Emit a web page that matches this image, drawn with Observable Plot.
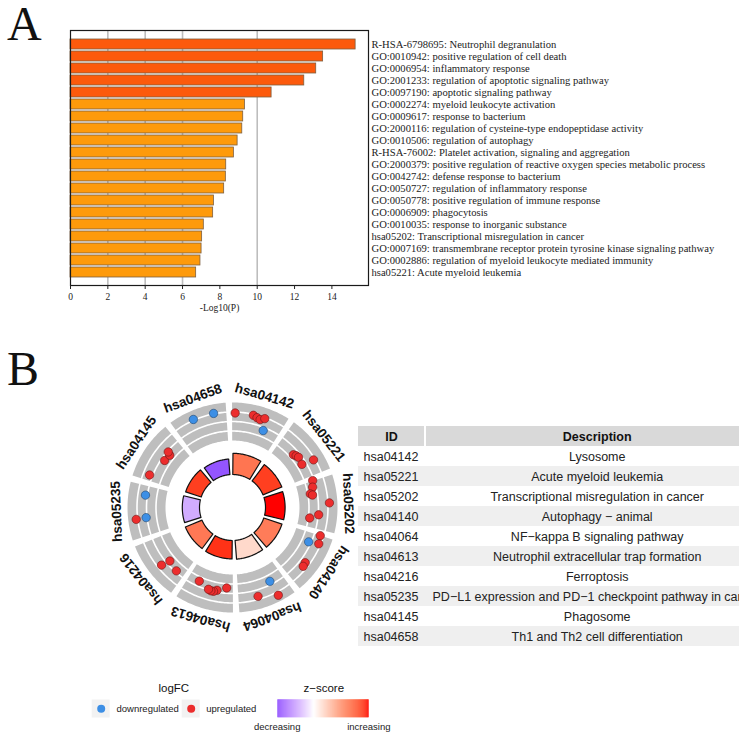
<!DOCTYPE html>
<html><head><meta charset="utf-8">
<script src="https://cdn.jsdelivr.net/npm/d3@7"></script>
<script src="https://cdn.jsdelivr.net/npm/@observablehq/plot@0.6"></script>
<style>
body{margin:0;background:#fff;}
#root{position:relative;width:739px;height:740px;overflow:hidden;background:#fff;}
.part{position:absolute;}
.letter{position:absolute;left:7px;font:48px 'Liberation Serif',serif;line-height:1.2;color:#111;}
</style></head><body><div id="root"></div>
<script>
// ---------- Panel A data ----------
const termsA = [
  "R-HSA-6798695: Neutrophil degranulation",
  "GO:0010942: positive regulation of cell death",
  "GO:0006954: inflammatory response",
  "GO:2001233: regulation of apoptotic signaling pathway",
  "GO:0097190: apoptotic signaling pathway",
  "GO:0002274: myeloid leukocyte activation",
  "GO:0009617: response to bacterium",
  "GO:2000116: regulation of cysteine-type endopeptidase activity",
  "GO:0010506: regulation of autophagy",
  "R-HSA-76002: Platelet activation, signaling and aggregation",
  "GO:2000379: positive regulation of reactive oxygen species metabolic process",
  "GO:0042742: defense response to bacterium",
  "GO:0050727: regulation of inflammatory response",
  "GO:0050778: positive regulation of immune response",
  "GO:0006909: phagocytosis",
  "GO:0010035: response to inorganic substance",
  "hsa05202: Transcriptional misregulation in cancer",
  "GO:0007169: transmembrane receptor protein tyrosine kinase signaling pathway",
  "GO:0002886: regulation of myeloid leukocyte mediated immunity",
  "hsa05221: Acute myeloid leukemia"
];
const logP = [15.27, 13.53, 13.16, 12.52, 10.77, 9.34, 9.25, 9.20, 8.95, 8.75, 8.34, 8.32, 8.23, 7.68, 7.64, 7.14, 7.05, 7.02, 6.96, 6.73];
const xTicksA = [0, 2, 4, 6, 8, 10, 12, 14];
const gridA = [2, 4, 6, 10];

// ---------- Panel B data ----------
const idsB = ["hsa04142","hsa05221","hsa05202","hsa04140","hsa04064","hsa04613","hsa04216","hsa05235","hsa04145","hsa04658"];
const descB = ["Lysosome","Acute myeloid leukemia","Transcriptional misregulation in cancer","Autophagy \u2212 animal","NF\u2212kappa B signaling pathway","Neutrophil extracellular trap formation","Ferroptosis","PD\u2212L1 expression and PD\u22121 checkpoint pathway in cancer","Phagosome","Th1 and Th2 cell differentiation"];
const zScore = [2.1, 2.7, 3.0, 2.0, 0.6, 2.8, 2.05, -0.95, 2.7, -1.95];
const sigB = [5.3, 5.1, 4.9, 4.8, 4.7, 4.6, 4.5, 4.3, 4.1, 3.9];
const geneTerm  = [0,0,0,0,0,0, 1,1,1,1,1, 2,2,2,2,2,2,2, 3,3,3,3,3, 4,4,4, 5,5,5,5,5,5, 6,6,6, 7,7,7, 8,8,8,8, 9,9];
const geneSpot  = [0.10,0.41,0.48,0.54,0.61,0.66, 0.42,0.47,0.52,0.67,0.71, 0.04,0.16,0.28,0.31,0.48,0.69,0.77, 0.05,0.19,0.23,0.59,0.66, 0.29,0.31,0.61, 0.17,0.35,0.41,0.46,0.51,0.73, 0.21,0.43,0.47, 0.36,0.37,0.78, 0.15,0.52,0.66,0.69, 0.39,0.74];
const geneLogFC = [2.9,2.9,2.75,2.65,2.9,-1.67, 1.42,1.58,1.68,1.55,2.84, 1.85,1.65,1.26,1.47,3.16,2.05,1.15, 2.65,2.8,-1.74,2.56,2.63, 3.37,-1.66,2.68, 1.44,1.81,1.99,2.0,1.92,1.45, 1.86,1.62,2.57, 3.16,-2.1,-2.2, 2.32,1.64,1.54,1.89, -3.09,-3.05];
const legendLogFC = ["downregulated", "upregulated"];
const legendZ = ["decreasing", "increasing"];

const root = document.getElementById("root");
function place(node, left, top) {
  node.classList.add("part");
  node.style.left = left + "px";
  node.style.top = top + "px";
  root.appendChild(node);
}
const zColor = {type: "linear", domain: [-2, 0, 3], range: ["#9050FF", "#FFFFFF", "#FF0000"], interpolate: "lab"};

// ---------- Panel A ----------
const dataA = termsA.map((t, i) => ({term: t, v: logP[i]}));
const plotA = Plot.plot({
  width: 739, height: 320,
  marginLeft: 70, marginRight: 371, marginTop: 30, marginBottom: 35,
  style: {fontFamily: "'Liberation Serif', serif", background: "transparent", color: "#222"},
  x: {domain: [0, 15.96]},
  y: {domain: termsA, paddingInner: 0.176, paddingOuter: 0.59, axis: null},
  color: {type: "threshold", domain: [10], range: ["#FE9A0B", "#FC5A0C"]},
  marks: [
    Plot.ruleX(gridA, {stroke: "#bdbdbd", strokeWidth: 1.6}),
    Plot.barX(dataA, {x: "v", y: "term", fill: "v", stroke: "#7d5f40", strokeWidth: 0.8}),
    Plot.frame({stroke: "#1a1a1a", strokeWidth: 1.2}),
    Plot.axisX({ticks: xTicksA, tickSize: 4, tickPadding: 4, fontSize: 9.5, label: null, stroke: "#222"}),
    Plot.text(dataA, {y: "term", text: "term", frameAnchor: "right", textAnchor: "start", dx: 3, fontSize: 10.6, fill: "#222"}),
    Plot.text(["-Log10(P)"], {frameAnchor: "bottom", dy: 25, fontSize: 9.5, fill: "#222"})
  ]
});
place(plotA, 0, 0);

// ---------- Panel B circle ----------
const cx = 232, cy = 506.5, rot = -2, sector = 360 / idsB.length;
const rad = a => a * Math.PI / 180;
function arcPts(id, a0, a1, r0, r1, extra) {
  const n = Math.ceil(Math.abs(a1 - a0)), pts = [];
  for (let k = 0; k <= n; k++) { const a = a0 + (a1 - a0) * k / n; pts.push({id, x: r1 * Math.sin(rad(a)), y: r1 * Math.cos(rad(a)), ...extra}); }
  if (r0 !== null) {
    for (let k = n; k >= 0; k--) { const a = a0 + (a1 - a0) * k / n; pts.push({id, x: r0 * Math.sin(rad(a)), y: r0 * Math.cos(rad(a)), ...extra}); }
    pts.push({...pts[0]});
  }
  return pts;
}
const bandIn = 67, bandOut = 105, ringIn = 33, ringK = 4;
const lineR = [76.5, 86, 95.5];
const rGene = v => bandIn + Math.abs(v) * 9.5;
let grayPts = [], whitePts = [], innerPts = [];
const labelsB = [];
idsB.forEach((id, i) => {
  const s = rot + sector * i;
  grayPts = grayPts.concat(arcPts(id, s + 1.75, s + sector - 1.75, bandIn, bandOut, {}));
  lineR.forEach((r, j) => { whitePts = whitePts.concat(arcPts(id + "_" + j, s + 1.75, s + sector - 1.75, null, r, {})); });
  innerPts = innerPts.concat(arcPts(id, s + 2.5, s + sector - 2.5, ringIn, ringIn + sigB[i] * ringK, {z: zScore[i]}));
  const a = s + sector / 2;
  labelsB.push({id, a, x: 116 * Math.sin(rad(a)), y: 116 * Math.cos(rad(a))});
});
const genes = geneTerm.map((t, i) => {
  const a = rot + sector * t + geneSpot[i] * sector, r = rGene(geneLogFC[i]);
  return {term: idsB[t], lfc: geneLogFC[i], x: r * Math.sin(rad(a)), y: r * Math.cos(rad(a))};
});
const plotB = Plot.plot({
  width: 320, height: 300, margin: 0,
  style: {fontFamily: "'Liberation Sans', Arial, sans-serif", background: "transparent", overflow: "visible"},
  x: {domain: [-160, 160], axis: null},
  y: {domain: [-150, 150], axis: null},
  color: zColor,
  marks: [
    Plot.line(grayPts, {x: "x", y: "y", z: "id", fill: "#bebebe", stroke: "none", curve: "linear"}),
    Plot.line(whitePts, {x: "x", y: "y", z: "id", stroke: "white", strokeWidth: 1.6, curve: "linear"}),
    Plot.line(innerPts, {x: "x", y: "y", z: "id", fill: "z", stroke: "#111", strokeWidth: 1.2, curve: "linear"}),
    Plot.dot(genes.filter(d => d.lfc > 0), {x: "x", y: "y", r: 4.2, fill: "#EC2D2D", stroke: "#6a1515", strokeWidth: 0.6}),
    Plot.dot(genes.filter(d => d.lfc < 0), {x: "x", y: "y", r: 4.2, fill: "#3D8FE5", stroke: "#1c4470", strokeWidth: 0.6}),
    Plot.text(labelsB, {x: "x", y: "y", text: "id", rotate: "a", fontSize: 13.5, fontWeight: "bold", fill: "#111"})
  ]
});
place(plotB, cx - 160, cy - 150);

// ---------- Table ----------
const rowsT = idsB.map((id, i) => ({key: id, id, desc: descB[i], i}));
const plotT = Plot.plot({
  width: 381, height: 226, margin: 0,
  style: {fontFamily: "'Liberation Sans', Arial, sans-serif", background: "transparent", overflow: "visible"},
  x: {domain: [0, 381], range: [0, 381], axis: null},
  y: {domain: ["__header", ...idsB], padding: 0, axis: null},
  marks: [
    Plot.barX(["ID"], {x1: 0, x2: 66, y: () => "__header", fill: "#d9d9d9"}),
    Plot.barX(["Description"], {x1: 68, x2: 381, y: () => "__header", fill: "#d9d9d9"}),
    Plot.barX(rowsT.filter(d => d.i % 2 === 1), {x1: 0, x2: 381, y: "key", fill: "#efefef"}),
    Plot.text(["ID"], {x: 33, y: () => "__header", text: d => d, fontWeight: "bold", fontSize: 12.5, fill: "#111"}),
    Plot.text(["Description"], {x: 238.7, y: () => "__header", text: d => d, fontWeight: "bold", fontSize: 12.5, fill: "#111"}),
    Plot.text(rowsT, {x: 5, y: "key", text: "id", textAnchor: "start", fontSize: 12.5, fill: "#222"}),
    Plot.text(rowsT, {x: 238.7, y: "key", text: "desc", fontSize: 12.5, fill: "#222"})
  ]
});
place(plotT, 358, 423);

// ---------- Legends ----------
const ramp = d3.range(0, 90).map(k => ({t0: k / 90, t1: (k + 1) / 90, z: -2 + 5 * (k + 0.5) / 90}));
const plotL = Plot.plot({
  width: 420, height: 70, margin: 0,
  style: {fontFamily: "'Liberation Sans', Arial, sans-serif", background: "transparent", overflow: "visible"},
  x: {domain: [0, 420], range: [0, 420], axis: null},
  y: {domain: [0, 70], range: [0, 70], axis: null},
  color: zColor,
  marks: [
    Plot.text(["logFC"], {x: 173.3, y: 18.3, text: d => d, fontSize: 11.5, fill: "#111"}),
    Plot.rect(legendLogFC, {x1: (d, i) => i ? 181.7 : 91.7, x2: (d, i) => i ? 199.7 : 109.7, y1: 29.5, y2: 47.5, fill: "#f2f2f2"}),
    Plot.dot(legendLogFC, {x: (d, i) => i ? 190.7 : 100.7, y: 38.3, r: 4, fill: (d, i) => i ? "#EC2D2D" : "#3D8FE5"}),
    Plot.text(legendLogFC, {x: (d, i) => i ? 205.7 : 116, y: 38.3, text: d => d, textAnchor: "start", fontSize: 9.5, fill: "#222"}),
    Plot.text(["z\u2212score"], {x: 323.3, y: 18.3, text: d => d, fontSize: 11.5, fill: "#111"}),
    Plot.rect(ramp, {x1: d => 277.3 + 91 * d.t0, x2: d => 277.3 + 91 * d.t1 + 0.4, y1: 29.3, y2: 47.3, fill: "z"}),
    Plot.text(legendZ, {x: (d, i) => i ? 368.3 : 276.7, y: 56.7, text: d => d, fontSize: 9.5, fill: "#222"})
  ]
});
place(plotL, 0, 670);

// ---------- Panel letters ----------
["A", "B"].forEach((L, i) => {
  const d = document.createElement("div");
  d.className = "letter";
  d.textContent = L;
  d.style.top = (i ? 340 : -5) + "px";
  root.appendChild(d);
});
</script></body></html>
